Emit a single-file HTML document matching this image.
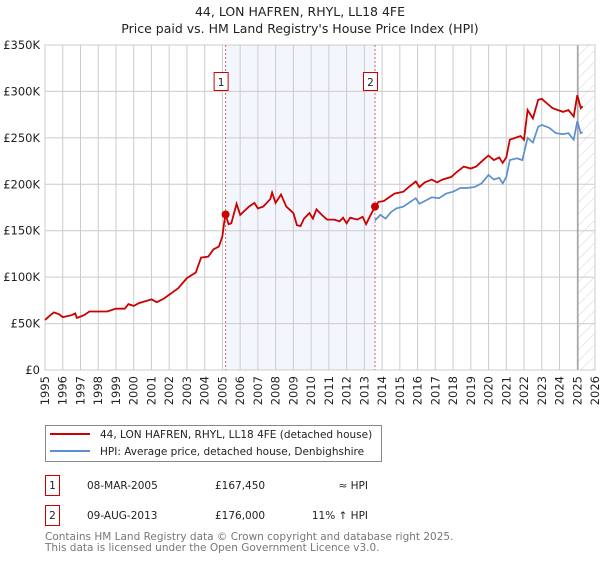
<!DOCTYPE html>
<html><head><meta charset="utf-8"><style>
body{margin:0;background:#fff;font-family:"Liberation Sans","DejaVu Sans",sans-serif;}
svg text{font-family:"DejaVu Sans","Liberation Sans",sans-serif;}
</style></head><body>
<svg id="chart" width="600" height="560" viewBox="0 0 600 560" xmlns="http://www.w3.org/2000/svg">
<defs><pattern id="hatch" width="8" height="8" patternUnits="userSpaceOnUse" patternTransform="rotate(45)"><line x1="0" y1="0" x2="0" y2="8" stroke="#d4d4d4" stroke-width="1"/></pattern></defs>
<text x="300" y="16" text-anchor="middle" font-size="12.5" fill="#222">44, LON HAFREN, RHYL, LL18 4FE</text>
<text x="300" y="33" text-anchor="middle" font-size="12.5" fill="#222">Price paid vs. HM Land Registry's House Price Index (HPI)</text>
<g id="plot"></g>
<g>
<rect x="45.5" y="425.5" width="336" height="36" fill="#fff" stroke="#888"/>
<line x1="50" y1="434" x2="90" y2="434" stroke="#cc0000" stroke-width="2"/>
<text x="100" y="438" font-size="10.5" fill="#222">44, LON HAFREN, RHYL, LL18 4FE (detached house)</text>
<line x1="50" y1="451" x2="90" y2="451" stroke="#5b8fd0" stroke-width="2"/>
<text x="100" y="455" font-size="10.5" fill="#222">HPI: Average price, detached house, Denbighshire</text>
</g>
<g font-size="10.5" fill="#222">
<rect x="45.5" y="475.5" width="14" height="20" fill="#fff" stroke="#cc0000"/>
<text x="52.5" y="489" text-anchor="middle">1</text>
<text x="87" y="489">08-MAR-2005</text>
<text x="215" y="489">£167,450</text>
<text x="368" y="489" text-anchor="end">≈ HPI</text>
<rect x="45.5" y="505.5" width="14" height="20" fill="#fff" stroke="#cc0000"/>
<text x="52.5" y="519" text-anchor="middle">2</text>
<text x="87" y="519">09-AUG-2013</text>
<text x="215" y="519">£176,000</text>
<text x="368" y="519" text-anchor="end">11% ↑ HPI</text>
</g>
<text x="45" y="540" font-size="10.5" fill="#777">Contains HM Land Registry data © Crown copyright and database right 2025.</text>
<text x="45" y="551" font-size="10.5" fill="#777">This data is licensed under the Open Government Licence v3.0.</text>
</svg>
<script>
const yTicks=[0,50000,100000,150000,200000,250000,300000,350000];
const yTickLabels=["£0","£50K","£100K","£150K","£200K","£250K","£300K","£350K"];
const xYears=[1995,1996,1997,1998,1999,2000,2001,2002,2003,2004,2005,2006,2007,2008,2009,2010,2011,2012,2013,2014,2015,2016,2017,2018,2019,2020,2021,2022,2023,2024,2025,2026];
const propT=[1995.0,1995.3,1995.5,1995.8,1996.0,1996.5,1996.7,1996.8,1997.2,1997.5,1998.0,1998.5,1999.0,1999.5,1999.7,2000.0,2000.3,2001.0,2001.3,2001.7,2002.0,2002.5,2003.0,2003.5,2003.8,2004.2,2004.5,2004.8,2005.0,2005.1,2005.18,2005.35,2005.5,2005.8,2006.0,2006.5,2006.8,2007.0,2007.3,2007.7,2007.8,2008.0,2008.3,2008.6,2009.0,2009.2,2009.4,2009.6,2009.9,2010.1,2010.3,2010.6,2010.9,2011.3,2011.6,2011.8,2012.0,2012.2,2012.6,2012.9,2013.1,2013.3,2013.6,2013.8,2014.1,2014.4,2014.7,2015.2,2015.5,2015.9,2016.1,2016.4,2016.8,2017.1,2017.4,2017.9,2018.2,2018.6,2019.0,2019.3,2019.7,2020.0,2020.3,2020.6,2020.8,2021.0,2021.2,2021.5,2021.8,2022.0,2022.2,2022.5,2022.8,2023.0,2023.3,2023.6,2023.9,2024.2,2024.5,2024.8,2025.0,2025.2,2025.3];
const propV=[54,59,62,60,57,59,61,56,59,63,63,63,66,66,71,69,72,76,73,77,81,88,99,105,121,122,130,133,144,159,167,157,158,179,167,176,180,174,176,184,191,180,189,176,169,156,155,163,169,163,173,167,162,162,160,164,158,164,162,165,157,165,176,181,182,186,190,192,197,203,197,202,205,202,205,208,213,219,217,219,226,231,226,229,223,229,248,250,252,248,280,271,291,292,287,282,280,278,280,273,296,282,284];
const hpiT=[2013.6,2013.9,2014.2,2014.5,2014.8,2015.2,2015.5,2015.9,2016.1,2016.5,2016.8,2017.2,2017.6,2018.0,2018.4,2018.8,2019.2,2019.6,2020.0,2020.3,2020.6,2020.8,2021.0,2021.2,2021.6,2021.9,2022.2,2022.5,2022.8,2023.0,2023.4,2023.8,2024.2,2024.5,2024.8,2025.0,2025.2,2025.3];
const hpiV=[161,167,163,170,174,176,180,185,179,183,186,185,190,192,196,196,197,201,210,205,207,201,208,226,228,226,250,245,262,264,261,255,254,255,248,268,255,256];
const saleT=[2005.18,2013.6];
const saleV=[167450,176000];
const saleLabels=["1","2"];

const L=45,R=595,T=45,B=370;
const x=t=>L+(t-1995)/(2026-1995)*(R-L);
const y=v=>B-v/350000*(B-T);
const NS="http://www.w3.org/2000/svg";
const plot=document.getElementById('plot');
function mk(tag,attrs,parent){const e=document.createElementNS(NS,tag);for(const k in attrs)e.setAttribute(k,attrs[k]);(parent||plot).appendChild(e);return e;}
let e;
e=mk('rect',{x:L,y:T,width:R-L,height:B-T,fill:'#fff'});


e=mk('rect',{x:x(saleT[0]),y:T,width:x(saleT[1])-x(saleT[0]),height:B-T,fill:'#f3f6fd'});


e=mk('rect',{x:x(2025.04),y:T,width:R-x(2025.04),height:B-T,fill:'url(#hatch)'});


yTicks.forEach((v,i)=>{
 const g=mk('line',{x1:L,x2:R,y1:y(v),y2:y(v),stroke:'#ccc','stroke-width':1});
 
 
 const t=mk('text',{x:L-5,y:y(v)+4,'text-anchor':'end','font-size':'11.5',fill:'#222'});
 t.textContent=yTickLabels[i];
 
 
});
xYears.forEach(yr=>{
 const g=mk('line',{x1:x(yr),x2:x(yr),y1:T,y2:B,stroke:'#ccc','stroke-width':1});
 
 
 const t=mk('text',{x:0,y:0,'text-anchor':'end','font-size':'11.5',fill:'#222',transform:`translate(${x(yr)+4},${B+6}) rotate(-90)`});
 t.textContent=String(yr);
 
 
});
e=mk('line',{x1:x(2025.04),x2:x(2025.04),y1:T,y2:B,stroke:'#888','stroke-width':1});


e=mk('rect',{x:L,y:T,width:R-L,height:B-T,fill:'none',stroke:'#ccc'});


saleT.forEach((t,i)=>{
 const l=mk('line',{x1:x(t),x2:x(t),y1:T,y2:B,stroke:'#e06060','stroke-width':1,'stroke-dasharray':'2,2'});
 
 
});
const pts=(ts,vs,s)=>ts.map((t,i)=>x(t).toFixed(1)+','+y(vs[i]*s).toFixed(1)).join(' ');
e=mk('polyline',{points:pts(hpiT,hpiV,1000),fill:'none',stroke:'#5b8fd0','stroke-width':1.7});


e=mk('polyline',{points:pts(propT,propV,1000),fill:'none',stroke:'#cc0000','stroke-width':1.8});


saleT.forEach((t,i)=>{
 const c=mk('circle',{cx:x(t),cy:y(saleV[i]),r:4,fill:'#cc0000'});
 
 
 const bx=x(t)-12;
 const r=mk('rect',{x:bx+0.5,y:72.5,width:14,height:18,fill:'#fff',stroke:'#cc0000'});
 
 
 const tx=mk('text',{x:bx+7.5,y:86,'text-anchor':'middle','font-size':'10.5',fill:'#222'});
 tx.textContent=saleLabels[i];
 
 
});
</script>
</body></html>
